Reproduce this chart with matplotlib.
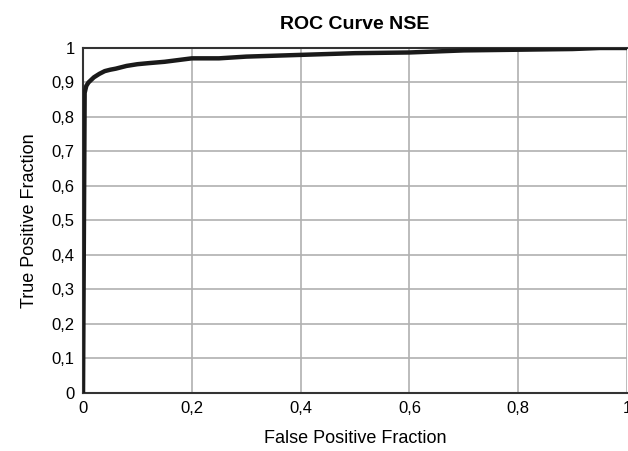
import matplotlib
matplotlib.use('Agg')
import matplotlib.pyplot as plt
from matplotlib import font_manager

# font: narrow sans if available
names = {f.name for f in font_manager.fontManager.ttflist}
fam = 'Liberation Sans Narrow' if 'Liberation Sans Narrow' in names else 'Liberation Sans'
plt.rcParams['font.family'] = [fam, 'DejaVu Sans']

# ROC points
fpf = [0.0, 0.003, 0.006, 0.01, 0.02, 0.03, 0.04, 0.05, 0.06, 0.08, 0.1, 0.12, 0.15,
       0.2, 0.25, 0.3, 0.4, 0.5, 0.6, 0.7, 0.8, 0.9, 0.95, 1.0]
tpf = [0.0, 0.87, 0.89, 0.90, 0.915, 0.925, 0.933, 0.937, 0.94, 0.948, 0.953, 0.956, 0.96,
       0.97, 0.97, 0.975, 0.98, 0.985, 0.987, 0.993, 0.995, 0.997, 1.0, 1.0]

ticks = [0, 0.1, 0.2, 0.3, 0.4, 0.5, 0.6, 0.7, 0.8, 0.9, 1.0]
xticks = [0, 0.2, 0.4, 0.6, 0.8, 1.0]

fig = plt.figure(figsize=(6.28, 4.51), dpi=100)
ax = fig.add_axes([0.1322, 0.1286, 0.8662, 0.765])

ax.plot(fpf, tpf, color='#1a1a1a', linewidth=3.2, solid_capstyle='round', zorder=3)

ax.set_xlim(0, 1)
ax.set_ylim(0, 1)
ax.set_xticks(xticks)
ax.set_yticks(ticks)
fmt = lambda v: ('%g' % v).replace('.', ',')
ax.set_xticklabels([fmt(v) for v in xticks])
ax.set_yticklabels([fmt(v) for v in ticks])
ax.grid(True, color='#b0b0b0', linewidth=1.2)
ax.set_axisbelow(True)
ax.tick_params(length=0, labelsize=12, pad=6)
for s in ['top', 'left', 'bottom']:
    ax.spines[s].set_color('#333333')
    ax.spines[s].set_linewidth(1.5)
ax.spines['right'].set_visible(False)

ax.set_title('ROC Curve NSE', fontsize=14, fontweight='bold', pad=14)
ax.set_xlabel('False Positive Fraction', fontsize=13, labelpad=10)
ax.set_ylabel('True Positive Fraction', fontsize=13, labelpad=10)

fig.savefig('out.png', dpi=100)
